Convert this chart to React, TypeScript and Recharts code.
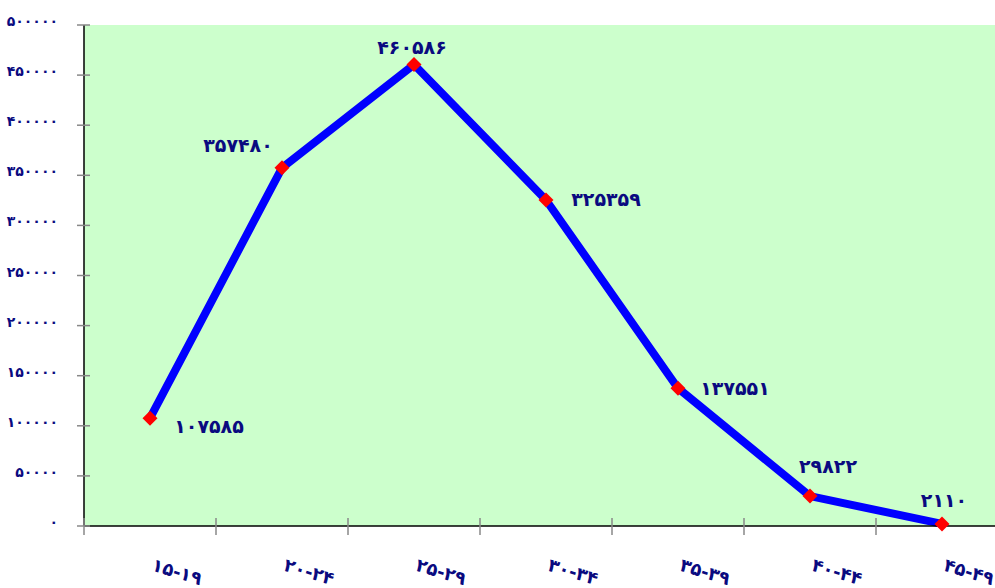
import React from 'react';
import { LineChart, Line, XAxis, YAxis, CartesianGrid } from 'recharts';

const categories = ['۱۵-۱۹', '۲۰-۲۴', '۲۵-۲۹', '۳۰-۳۴', '۳۵-۳۹', '۴۰-۴۴', '۴۵-۴۹'];
const values = [107585, 357480, 460586, 325359, 137551, 29822, 2110];
const yTicks = [0, 50000, 100000, 150000, 200000, 250000, 300000, 350000, 400000, 450000, 500000];

const data = categories.map((name, i) => ({ name, value: values[i] }));

const NAVY = '#0a0a80';
const FONT = '"DejaVu Sans", sans-serif';
const BAND = 132;

// label offsets from each point, by index
const labelOffsets = [
    [59, 8], [-44, -23], [-2, -17], [60, -1], [57, 0], [18, -30], [2, -24]
];

const fa = (v: number | string) => String(v).replace(/\d/g, d => '۰۱۲۳۴۵۶۷۸۹'[+d]);

const YTick = ({ x, y, payload }: any) => (
    <g>
        <line x1={x - 7} x2={x + 6} y1={y} y2={y} stroke="#888" strokeWidth={1.5} />
        <text x={x - 26} y={y + 1} textAnchor="end" fill={NAVY} fontSize={14} fontWeight="bold" fontFamily={FONT}>
            {fa(payload.value)}
        </text>
    </g>
);

const XTick = ({ x, y, payload }: any) => (
    <g>
        <line x1={x - BAND / 2} x2={x - BAND / 2} y1={y - 8} y2={y + 9} stroke="#888" strokeWidth={1.5} />
        <text
            x={x + 27}
            y={y + 52}
            textAnchor="middle"
            fill={NAVY}
            fontSize={18}
            fontWeight="bold"
            fontFamily={FONT}
            transform={`rotate(17 ${x + 27} ${y + 46})`}
        >
            {payload.value}
        </text>
    </g>
);

const Diamond = ({ cx, cy }: any) => (
    <polygon points={`${cx},${cy - 7.5} ${cx + 7.5},${cy} ${cx},${cy + 7.5} ${cx - 7.5},${cy}`} fill="#ff0000" />
);

const ValueLabel = ({ x, y, value, index }: any) => {
    const [dx, dy] = labelOffsets[index] || [0, -15];
    return (
        <text x={x + dx} y={y + dy + 7} textAnchor="middle" fill={NAVY} fontSize={19} fontWeight="bold" fontFamily={FONT}>
            {fa(value)}
        </text>
    );
};

export default function App() {
    return (
        <div style={{ position: 'absolute', left: 0, top: 0, width: 995, height: 588, overflow: 'hidden', background: '#fff' }}>
            <LineChart width={1010} height={588} data={data} margin={{ top: 25, right: 2, left: 0, bottom: 0 }}>
                <CartesianGrid horizontal={false} vertical={false} fill="#ccffcc" stroke="none" />
                <XAxis
                    dataKey="name"
                    scale="band"
                    height={62}
                    axisLine={{ stroke: '#000', strokeWidth: 1.5 }}
                    tickLine={false}
                    tickSize={0}
                    tickMargin={0}
                    interval={0}
                    tick={<XTick />}
                />
                <YAxis
                    width={84}
                    domain={[0, 500000]}
                    ticks={yTicks}
                    interval={0}
                    axisLine={{ stroke: '#000', strokeWidth: 1.5 }}
                    tickLine={false}
                    tickSize={0}
                    tickMargin={0}
                    tick={<YTick />}
                />
                <Line
                    type="linear"
                    dataKey="value"
                    stroke="#0000ff"
                    strokeWidth={8}
                    dot={<Diamond />}
                    activeDot={false}
                    label={<ValueLabel />}
                    isAnimationActive={false}
                />
            </LineChart>
        </div>
    );
}
